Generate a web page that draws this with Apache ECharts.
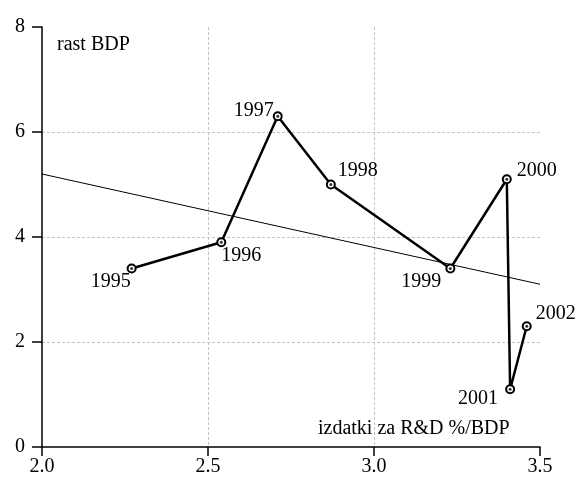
<!DOCTYPE html>
<html><head><meta charset="utf-8">
<script src="https://cdn.jsdelivr.net/npm/echarts@6/dist/echarts.min.js"></script>
<style>html,body{margin:0;padding:0;background:#fff}#c{width:577px;height:479px}</style>
</head><body><div id="c"></div>
<script>
const years = ['1995','1996','1997','1998','1999','2000','2001','2002'];
const rdShare = [2.27, 2.54, 2.71, 2.87, 3.23, 3.40, 3.41, 3.46];
const gdpGrowth = [3.4, 3.9, 6.3, 5.0, 3.4, 5.1, 1.1, 2.3];
const trendX = [2.0, 3.5];
const trendY = [5.2, 3.1];
const labelOffsets = [[-21,13],[20,13],[-24,-6],[27,-14],[-29,13],[30,-9],[-32,9],[29,-13]];

const font = 'Liberation Serif';
const chart = echarts.init(document.getElementById('c'));
chart.setOption({
  animation: false,
  backgroundColor: '#fff',
  grid: {left: 42, right: 37, top: 27, bottom: 32},
  xAxis: {
    type: 'value', min: 2.0, max: 3.5, interval: 0.5,
    axisLine: {show: true, lineStyle: {color: '#000', width: 1.5}},
    axisTick: {show: true, length: 9, lineStyle: {color: '#000', width: 1.5}},
    axisLabel: {color: '#000', fontFamily: font, fontSize: 20, margin: 10,
      formatter: v => v.toFixed(1)},
    splitLine: {show: true, showMinLine: false, showMaxLine: false,
      lineStyle: {color: '#c4c4c4', type: [3, 2], width: 1}}
  },
  yAxis: {
    type: 'value', min: 0, max: 8, interval: 2,
    axisLine: {show: true, lineStyle: {color: '#000', width: 1.5}},
    axisTick: {show: true, length: 10, lineStyle: {color: '#000', width: 1.5}},
    axisLabel: {color: '#000', fontFamily: font, fontSize: 20, margin: 17},
    splitLine: {show: true, showMinLine: false, showMaxLine: false,
      lineStyle: {color: '#c4c4c4', type: [3, 2], width: 1}}
  },
  graphic: [
    {type: 'text', left: 57, top: 35, style: {text: 'rast BDP', font: '20px "Liberation Serif"', fill: '#000'}},
    {type: 'text', left: 318, top: 419, style: {text: 'izdatki za R&D %/BDP', font: '20px "Liberation Serif"', fill: '#000'}}
  ],
  series: [
    {
      type: 'line',
      data: trendX.map((x, i) => [x, trendY[i]]),
      showSymbol: false, silent: true,
      lineStyle: {color: '#000', width: 1},
      z: 1
    },
    {
      type: 'line',
      data: rdShare.map((x, i) => ({
        value: [x, gdpGrowth[i]],
        label: {offset: labelOffsets[i]}
      })),
      symbol: 'emptyCircle', symbolSize: 8,
      itemStyle: {color: '#000', borderColor: '#000', borderWidth: 2},
      lineStyle: {color: '#000', width: 2.5},
      label: {
        show: true, position: 'inside', color: '#000',
        fontFamily: font, fontSize: 20,
        formatter: p => years[p.dataIndex]
      },
      z: 3
    },
    {
      type: 'scatter',
      data: rdShare.map((x, i) => [x, gdpGrowth[i]]),
      symbol: 'circle', symbolSize: 3, silent: true,
      itemStyle: {color: '#000'},
      z: 4
    }
  ]
});
</script></body></html>
